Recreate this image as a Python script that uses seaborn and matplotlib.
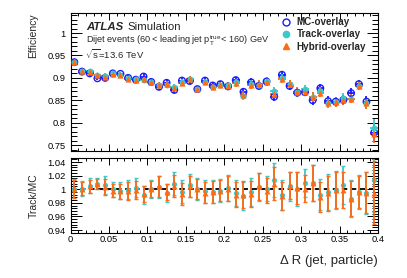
import numpy as np
import pandas as pd
import matplotlib
matplotlib.use("Agg")
import matplotlib.pyplot as plt
import seaborn as sns
from matplotlib.lines import Line2D
from matplotlib.ticker import MultipleLocator, FixedLocator

# ---------------- data ----------------
bin_centers = [0.005 + 0.01 * i for i in range(40)]
bin_halfwidth = 0.005

mc_eff = [0.935, 0.914, 0.910, 0.899, 0.900, 0.910, 0.909, 0.900, 0.896, 0.903,
          0.891, 0.880, 0.889, 0.873, 0.894, 0.893, 0.875, 0.894, 0.883, 0.886,
          0.881, 0.895, 0.869, 0.890, 0.882, 0.892, 0.858, 0.907, 0.882, 0.867,
          0.868, 0.850, 0.877, 0.848, 0.847, 0.851, 0.866, 0.886, 0.847, 0.778]
track_eff = [0.936, 0.915, 0.915, 0.906, 0.905, 0.910, 0.907, 0.899, 0.898, 0.895,
             0.891, 0.883, 0.884, 0.880, 0.890, 0.898, 0.875, 0.891, 0.879, 0.884,
             0.883, 0.890, 0.860, 0.886, 0.885, 0.893, 0.870, 0.900, 0.886, 0.868,
             0.876, 0.858, 0.870, 0.845, 0.846, 0.856, 0.854, 0.882, 0.843, 0.788]
hybrid_eff = [0.935, 0.915, 0.914, 0.906, 0.903, 0.908, 0.906, 0.897, 0.895, 0.897,
              0.891, 0.884, 0.886, 0.877, 0.888, 0.897, 0.875, 0.890, 0.880, 0.884,
              0.882, 0.888, 0.862, 0.884, 0.886, 0.890, 0.865, 0.898, 0.886, 0.869,
              0.868, 0.858, 0.867, 0.843, 0.846, 0.850, 0.854, 0.882, 0.843, 0.774]
eff_err = [0.006, 0.005, 0.005, 0.004, 0.006, 0.005, 0.005, 0.006, 0.006, 0.006,
           0.006, 0.007, 0.006, 0.007, 0.007, 0.007, 0.007, 0.007, 0.007, 0.007,
           0.008, 0.008, 0.009, 0.009, 0.009, 0.008, 0.010, 0.009, 0.009, 0.010,
           0.009, 0.011, 0.010, 0.011, 0.011, 0.011, 0.011, 0.010, 0.012, 0.020]

track_ratio = [1.001, 1.001, 1.005, 1.008, 1.006, 1.000, 0.998, 0.999, 1.002, 0.991,
               1.000, 1.003, 0.994, 1.008, 0.996, 1.006, 1.000, 0.997, 0.996, 0.998,
               1.002, 0.994, 0.990, 0.996, 1.003, 1.001, 1.014, 0.992, 1.004, 1.001,
               1.009, 1.009, 0.992, 0.996, 0.999, 1.006, 0.986, 0.996, 0.995, 1.013]
hybrid_ratio = [1.000, 1.001, 1.004, 1.008, 1.003, 0.998, 0.997, 0.997, 0.999, 0.993,
                1.000, 1.004, 0.996, 1.005, 0.993, 1.004, 1.000, 0.995, 0.996, 0.998,
                1.001, 0.992, 0.992, 0.993, 1.004, 0.998, 1.008, 0.990, 1.005, 1.002,
                1.001, 1.009, 0.989, 0.994, 0.999, 0.999, 0.986, 0.996, 0.995, 0.995]
track_ratio_err = [0.014, 0.011, 0.011, 0.008, 0.013, 0.011, 0.012, 0.014, 0.014, 0.013,
                   0.013, 0.016, 0.013, 0.017, 0.017, 0.017, 0.016, 0.017, 0.017, 0.017,
                   0.019, 0.019, 0.021, 0.020, 0.021, 0.019, 0.025, 0.022, 0.021, 0.025,
                   0.021, 0.027, 0.023, 0.027, 0.028, 0.028, 0.027, 0.025, 0.031, 0.047]
hybrid_ratio_err = [0.013, 0.010, 0.010, 0.007, 0.012, 0.010, 0.011, 0.013, 0.013, 0.012,
                    0.012, 0.015, 0.012, 0.016, 0.016, 0.016, 0.015, 0.016, 0.016, 0.016,
                    0.018, 0.018, 0.020, 0.019, 0.020, 0.018, 0.024, 0.021, 0.020, 0.024,
                    0.020, 0.026, 0.022, 0.026, 0.027, 0.027, 0.026, 0.024, 0.030, 0.046]

series_names = ["MC-overlay", "Track-overlay", "Hybrid-overlay"]
colors = {"MC-overlay": "#1a1aff", "Track-overlay": "#3cc9c9", "Hybrid-overlay": "#ff6a12"}

# ---------------- style ----------------
sns.set_style("ticks")
plt.rcParams['font.family'] = ['Liberation Sans', 'DejaVu Sans']
plt.rcParams['mathtext.fontset'] = 'custom'
plt.rcParams['mathtext.rm'] = 'Liberation Sans'
plt.rcParams['mathtext.it'] = 'Liberation Sans:italic'
plt.rcParams['mathtext.bf'] = 'Liberation Sans:bold'

fig = plt.figure(figsize=(4.07, 2.78), dpi=100)
L, R = 70.5 / 407, 378 / 407
ax = fig.add_axes([L, 1 - 151 / 278, R - L, (151 - 13) / 278])
axr = fig.add_axes([L, 1 - 233 / 278, R - L, (233 - 158) / 278])

# ---------------- top panel ----------------
top_df = pd.DataFrame({
    "dR": bin_centers * 3,
    "eff": mc_eff + track_eff + hybrid_eff,
    "err": eff_err * 3,
    "sample": [n for n in series_names for _ in bin_centers],
})

for name in series_names:
    d = top_df[top_df["sample"] == name]
    ax.errorbar(d["dR"], d["eff"], yerr=d["err"], xerr=bin_halfwidth, fmt="none",
                ecolor=colors[name], elinewidth=1.3, capsize=0, zorder=2)

sns.scatterplot(data=top_df[top_df["sample"] == "MC-overlay"], x="dR", y="eff", ax=ax,
                marker="o", s=22, facecolor="none", edgecolor=colors["MC-overlay"],
                linewidth=1.0, zorder=3, legend=False)
sns.scatterplot(data=top_df[top_df["sample"] == "Track-overlay"], x="dR", y="eff", ax=ax,
                marker="o", s=18, color=colors["Track-overlay"], linewidth=0,
                zorder=4, legend=False)
sns.scatterplot(data=top_df[top_df["sample"] == "Hybrid-overlay"], x="dR", y="eff", ax=ax,
                marker="^", s=20, color=colors["Hybrid-overlay"], linewidth=0,
                zorder=5, legend=False)

ax.set_xlim(0, 0.4)
ax.set_ylim(0.737, 1.0446)
ax.set_xlabel("")
ax.set_ylabel("Efficiency", fontsize=7.5, loc="top", labelpad=7)
ax.set_xticklabels([])

# ---------------- ratio panel ----------------
ratio_df = pd.DataFrame({
    "dR": bin_centers * 2,
    "ratio": track_ratio + hybrid_ratio,
    "err": track_ratio_err + hybrid_ratio_err,
    "sample": ["Track-overlay"] * 40 + ["Hybrid-overlay"] * 40,
})
axr.axhline(1.0, color="black", ls=(0, (3, 2)), lw=1.3, zorder=1)
for name in ["Track-overlay", "Hybrid-overlay"]:
    d = ratio_df[ratio_df["sample"] == name]
    axr.errorbar(d["dR"], d["ratio"], yerr=d["err"], fmt="none", ecolor=colors[name],
                 elinewidth=1.3, capsize=1.3, capthick=1.0, zorder=2 if name == "Track-overlay" else 4)
sns.scatterplot(data=ratio_df[ratio_df["sample"] == "Track-overlay"], x="dR", y="ratio",
                ax=axr, marker="o", s=14, color=colors["Track-overlay"], linewidth=0,
                zorder=3, legend=False)
sns.scatterplot(data=ratio_df[ratio_df["sample"] == "Hybrid-overlay"], x="dR", y="ratio",
                ax=axr, marker="^", s=18, color=colors["Hybrid-overlay"], linewidth=0,
                zorder=5, legend=False)

axr.set_xlim(0, 0.4)
axr.set_ylim(0.9356, 1.0459)
axr.set_ylabel("Track/MC", fontsize=7.5, labelpad=6)
axr.set_xlabel("Δ R (jet, particle)", fontsize=9.5, loc="right", labelpad=8)
axr.yaxis.set_major_locator(FixedLocator([0.94, 0.96, 0.98, 1.0, 1.02, 1.04]))
axr.yaxis.set_minor_locator(MultipleLocator(0.004))
axr.set_yticklabels(["0.94", "0.96", "0.98", "1", "1.02", "1.04"])
axr.set_xticks([0, 0.05, 0.1, 0.15, 0.2, 0.25, 0.3, 0.35, 0.4])
axr.set_xticklabels(["0", "0.05", "0.1", "0.15", "0.2", "0.25", "0.3", "0.35", "0.4"])

ax.set_xticks([0, 0.05, 0.1, 0.15, 0.2, 0.25, 0.3, 0.35, 0.4])
ax.set_yticks([0.75, 0.8, 0.85, 0.9, 0.95, 1.0])
ax.set_yticklabels(["0.75", "0.8", "0.85", "0.9", "0.95", "1"])
ax.yaxis.set_minor_locator(MultipleLocator(0.01))

for a in (ax, axr):
    a.xaxis.set_minor_locator(MultipleLocator(0.01))
    a.tick_params(axis="both", which="both", direction="in", top=True, right=True,
                  labelsize=6.7, width=0.7, colors="black")
    a.tick_params(axis="y", which="major", length=8)
    a.tick_params(axis="y", which="minor", length=4)
    a.tick_params(axis="x", which="major", length=5)
    a.tick_params(axis="x", which="minor", length=2.5)
    a.tick_params(axis="x", which="both", pad=1.5)
    for s in a.spines.values():
        s.set_linewidth(0.8)
        s.set_color("black")
ax.tick_params(axis="x", labelbottom=False)

# ---------------- annotations ----------------
fig.text(86 / 407, 1 - 27 / 278, "ATLAS", fontsize=8.2, fontweight="bold", style="italic",
         va="center", ha="left")
fig.text(127 / 407, 1 - 27 / 278, "Simulation", fontsize=8.2, va="center", ha="left")
fig.text(86 / 407, 1 - 41 / 278,
         r"Dijet events (60 < leading jet $\mathrm{p}_{\mathrm{T}}^{\mathrm{true}}$< 160) GeV",
         fontsize=6.6, va="center", ha="left")
fig.text(85 / 407, 1 - 54 / 278, r"$\sqrt{\mathrm{s}}$=13.6 TeV", fontsize=6.8,
         va="center", ha="left")

handles = [
    Line2D([], [], ls="none", marker="o", markersize=5, markerfacecolor="none",
           markeredgecolor=colors["MC-overlay"], markeredgewidth=1.0),
    Line2D([], [], ls="none", marker="o", markersize=4.5, color=colors["Track-overlay"]),
    Line2D([], [], ls="none", marker="^", markersize=5, color=colors["Hybrid-overlay"]),
]
fig.legend(handles, series_names, loc="upper left", bbox_to_anchor=(281 / 407, 1 - 17 / 278),
           frameon=False, prop={"weight": "bold", "size": 7.1}, handlelength=1.0,
           handletextpad=0.6, labelspacing=0.25, borderpad=0, borderaxespad=0)

fig.savefig("out.png", dpi=100)
